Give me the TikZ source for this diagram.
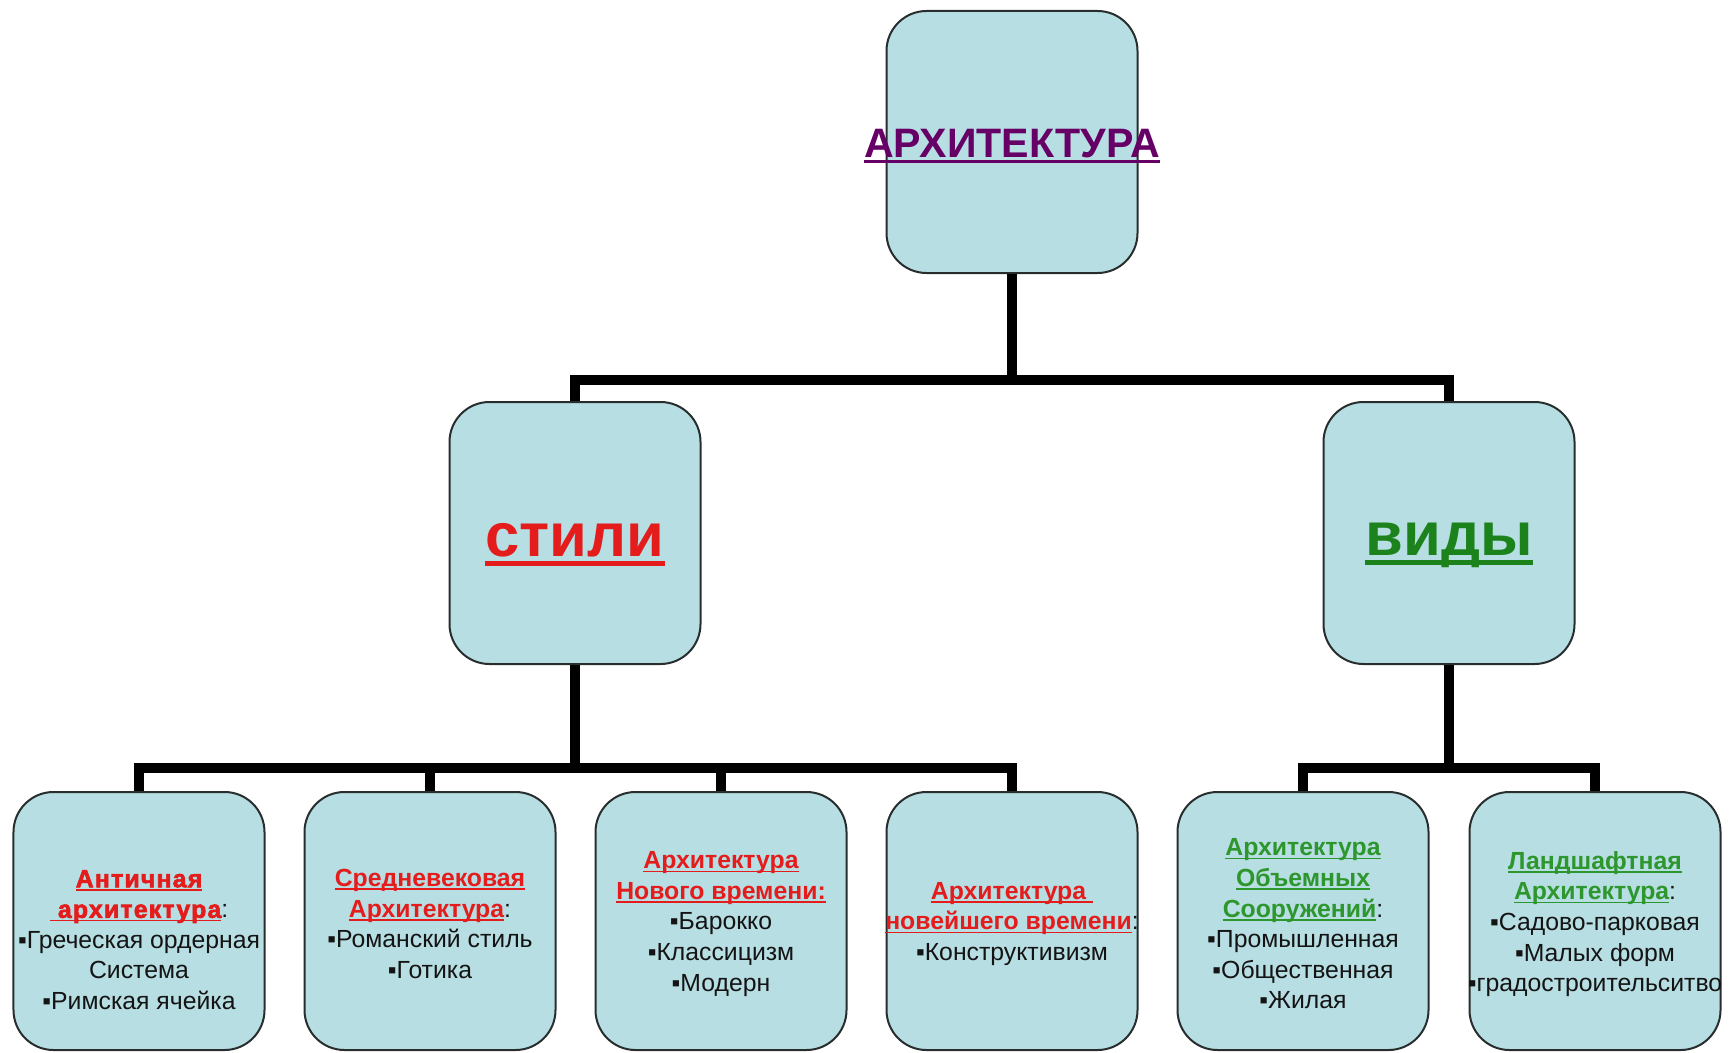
\documentclass[tikz,border=0pt]{standalone}
\usepackage{fontspec}
\setmainfont{Liberation Sans}
\newfontfamily\heavyfont[FakeBold=2.5, LetterSpace=5]{Liberation Sans Bold}
\usetikzlibrary{positioning}

\definecolor{boxfill}{RGB}{183,222,227}
\definecolor{boxline}{RGB}{40,45,45}
\definecolor{archpurple}{RGB}{102,0,102}
\definecolor{styred}{RGB}{228,28,28}
\definecolor{kindgreen}{RGB}{28,130,28}
\definecolor{subgreen}{RGB}{45,150,45}
\definecolor{bodytext}{RGB}{20,20,20}

% underlined text: [thickness]{text}
\newcommand{\ulin}[2][1pt]{\setbox0=\hbox{#2}\rlap{\rule[-2\dimexpr#1\relax]{\wd0}{#1}}\box0}
\newcommand{\redh}[1]{{\color{styred}\ulin{\bfseries #1}}}
\newcommand{\grnh}[1]{{\color{subgreen}\ulin{\bfseries #1}}}

\tikzstyle{blk}    = [draw=boxline, fill=boxfill, rounded corners=8mm, line width=0.4mm, minimum width=50.2mm, minimum height=52.4mm]
\tikzstyle{subblk} = [blk, minimum height=51.6mm]
\tikzstyle{conn}   = [line width=2mm, black]
\tikzstyle{txt}    = [align=center, font=\fontsize{14.1}{17.4}\selectfont, text=bodytext, inner sep=0pt]
\tikzstyle{bigtxt} = [anchor=base, font=\bfseries\fontsize{35}{40}\selectfont, inner sep=0pt]

\begin{document}
\begin{tikzpicture}[x=0.2mm,y=-0.2mm]
		\useasboundingbox (0,0) rectangle (1729,1052);

		% boxes
		\node[blk] (arch) at (1012,142) {};
		\node[blk] (stili) at (575,533) {};
		\node[blk] (vidy) at (1449,533) {};

		\node[subblk] (b1) at (139,921) {};
		\node[subblk] (b2) at (430,921) {};
		\node[subblk] (b3) at (721,921) {};
		\node[subblk] (b4) at (1012,921) {};
		\node[subblk] (b5) at (1303,921) {};
		\node[subblk] (b6) at (1595,921) {};

		% connectors
		\coordinate (j1) at (1012,380);
		\coordinate (j2) at (575,768);
		\coordinate (j3) at (1449,768);
		\draw[conn] (arch.south) -- (j1);
		\draw[conn] (j1) -| (stili.north);
		\draw[conn] (j1) -| (vidy.north);
		\draw[conn] (stili.south) -- (j2);
		\draw[conn] (j2) -| (b1.north);
		\draw[conn] (j2) -| (b2.north);
		\draw[conn] (j2) -| (b3.north);
		\draw[conn] (j2) -| (b4.north);
		\draw[conn] (vidy.south) -- (j3);
		\draw[conn] (j3) -| (b5.north);
		\draw[conn] (j3) -| (b6.north);

		% labels
		\node[anchor=base, inner sep=0pt, text=archpurple, font=\bfseries\fontsize{23.4}{27}\selectfont] (archtxt) at (1012,157) {\ulin[1.7pt]{АРХИТЕКТУРА}};
		\node[bigtxt, text=styred] (stilitxt) at (575,556) {\ulin[2.8pt]{стили}};
		\node[bigtxt, text=kindgreen] (vidytxt) at (1449,555) {\ulin[2.8pt]{виды}};

		\node[txt] (t1) at (139,940) {\redh{\heavyfont Античная}\\ \redh{\heavyfont\ архитектура}:\\ ▪Греческая ордерная\\ Система\\ ▪Римская ячейка};
		\node[txt] (t2) at (430,924) {\redh{Средневековая}\\ \redh{Архитектура}:\\ ▪Романский стиль\\ ▪Готика};
		\node[txt] (t3) at (721,924) {\redh{Архитектура}\\ \redh{Нового времени:}\\ ▪Барокко\\ ▪Классицизм\\ ▪Модерн};
		\node[txt] (t4) at (1012,924) {\redh{Архитектура\ }\\ \redh{новейшего времени}:\\ ▪Конструктивизм};
		\node[txt] (t5) at (1303,924) {\grnh{Архитектура}\\ \grnh{Объемных}\\ \grnh{Сооружений}:\\ ▪Промышленная\\ ▪Общественная\\ ▪Жилая};
		\node[txt] (t6) at (1595,924) {\grnh{Ландшафтная}\\ \grnh{Архитектура}:\\ ▪Садово-парковая\\ ▪Малых форм\\ ▪градостроительситво};
	\end{tikzpicture}
\end{document}
